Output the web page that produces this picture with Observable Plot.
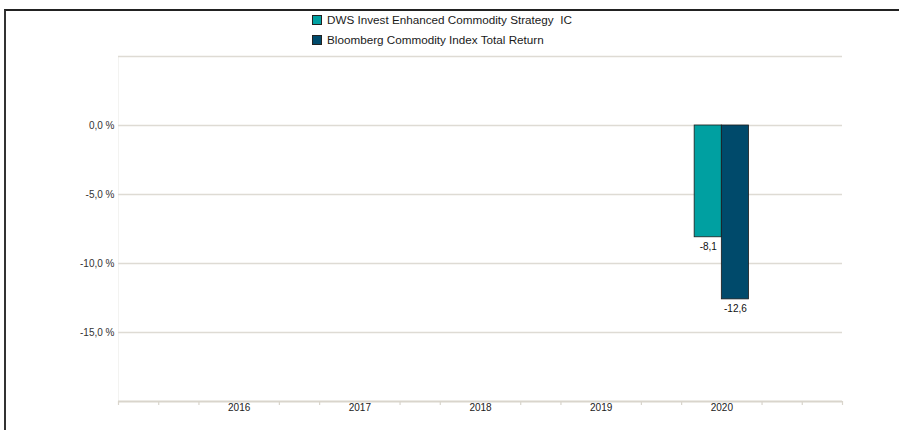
<!DOCTYPE html>
<html>
<head>
<meta charset="utf-8">
<script src="https://cdn.jsdelivr.net/npm/d3@7"></script>
<script src="https://cdn.jsdelivr.net/npm/@observablehq/plot@0.6"></script>
<style>
  html, body { margin: 0; padding: 0; background: #fff; }
  #wrap { position: relative; width: 899px; height: 430px; overflow: hidden; font-family: "Liberation Sans", Arial, sans-serif; }
  #frame { position: absolute; left: 4px; top: 9px; right: -10px; bottom: -10px; border-top: 2px solid #222; border-left: 2px solid #333; }
  #wrap svg { position: absolute; left: 0; top: 0; }
  #legend { position: absolute; left: 312px; top: 10px; font-size: 11.7px; color: #1a1a1a; line-height: 20px; }
  #legend .item { display: flex; align-items: center; white-space: pre; }
  #legend .sw { width: 8px; height: 8px; border: 1px solid #222; margin-right: 5px; }
</style>
</head>
<body>
<div id="wrap">
  <div id="frame"></div>
  <div id="legend"></div>
</div>
<script>
// ---- data ----
const years = [2016, 2017, 2018, 2019, 2020];
const seriesNames = ["DWS Invest Enhanced Commodity Strategy  IC", "Bloomberg Commodity Index Total Return"];
const fundValues = [null, null, null, null, -8.1];
const indexValues = [null, null, null, null, -12.6];
const seriesColors = ["#00a0a1", "#004a6b"];
const yTickValues = [0, -5, -10, -15];
const yGridValues = [5, 0, -5, -10, -15];
const yDomain = [-20, 5];
const xDomain = [2015, 2021];

const table = years.flatMap((yr, i) => [
  {year: yr, series: seriesNames[0], value: fundValues[i]},
  {year: yr, series: seriesNames[1], value: indexValues[i]}
]).filter(d => d.value != null);

// minor ticks every third of a year, except at labelled years
const minorTicks = d3.range(0, 19).map(i => xDomain[0] + i / 3)
  .filter(v => !years.some(y => Math.abs(y - v) < 1e-6));

const fmt = v => v.toFixed(1).replace(".", ",");

const dims = {width: 899, height: 430, marginLeft: 118, marginRight: 57, marginTop: 56, marginBottom: 29};
const font = {style: {fontFamily: "'Liberation Sans', Arial, sans-serif", fontSize: "10px", background: "transparent", overflow: "visible"}};

// background: grid, axes
const back = Plot.plot({
  ...dims, ...font,
  x: {domain: xDomain},
  y: {domain: yDomain},
  marks: [
    Plot.ruleX([xDomain[0]], {stroke: "#f3f3f1", strokeWidth: 1}),
    Plot.ruleY(yGridValues, {stroke: "#dedbd4", strokeWidth: 1.5}),
    Plot.axisY({ticks: yTickValues, tickSize: 0, tickPadding: 4, tickFormat: d => fmt(d) + " %", fontSize: 10, fill: "#333"}),
    Plot.ruleY([yDomain[0]], {stroke: "#d9d5cc", strokeWidth: 2}),
    Plot.axisX({ticks: minorTicks, tickSize: 4, tickFormat: () => "", stroke: "#d9d5cc", strokeWidth: 1.2}),
    Plot.axisX({ticks: years, tickSize: 0, tickPadding: 2, tickFormat: d => String(d), fontSize: 10, fill: "#222"})
  ]
});

// foreground: grouped bars via facets
const front = Plot.plot({
  ...dims, ...font,
  fx: {domain: years, paddingInner: 0, paddingOuter: 0.5, round: false, axis: null, label: null},
  x: {domain: seriesNames, paddingInner: 0, paddingOuter: 1.22, round: false, axis: null},
  y: {domain: yDomain, axis: null},
  color: {domain: seriesNames, range: seriesColors},
  marks: [
    Plot.barY(table, {fx: "year", x: "series", y: "value", fill: "series", stroke: "#1c1c1c", strokeWidth: 0.8}),
    Plot.text(table, {fx: "year", x: "series", y: "value", text: d => fmt(d.value), lineAnchor: "top", dy: 6, fontSize: 10, fill: "#111"})
  ]
});

const wrap = document.getElementById("wrap");
wrap.insertBefore(back, document.getElementById("legend"));
wrap.insertBefore(front, document.getElementById("legend"));

const legend = document.getElementById("legend");
seriesNames.forEach((name, i) => {
  const item = document.createElement("div");
  item.className = "item";
  const sw = document.createElement("span");
  sw.className = "sw";
  sw.style.background = seriesColors[i];
  const label = document.createElement("span");
  label.textContent = name;
  item.appendChild(sw);
  item.appendChild(label);
  legend.appendChild(item);
});
</script>
</body>
</html>
